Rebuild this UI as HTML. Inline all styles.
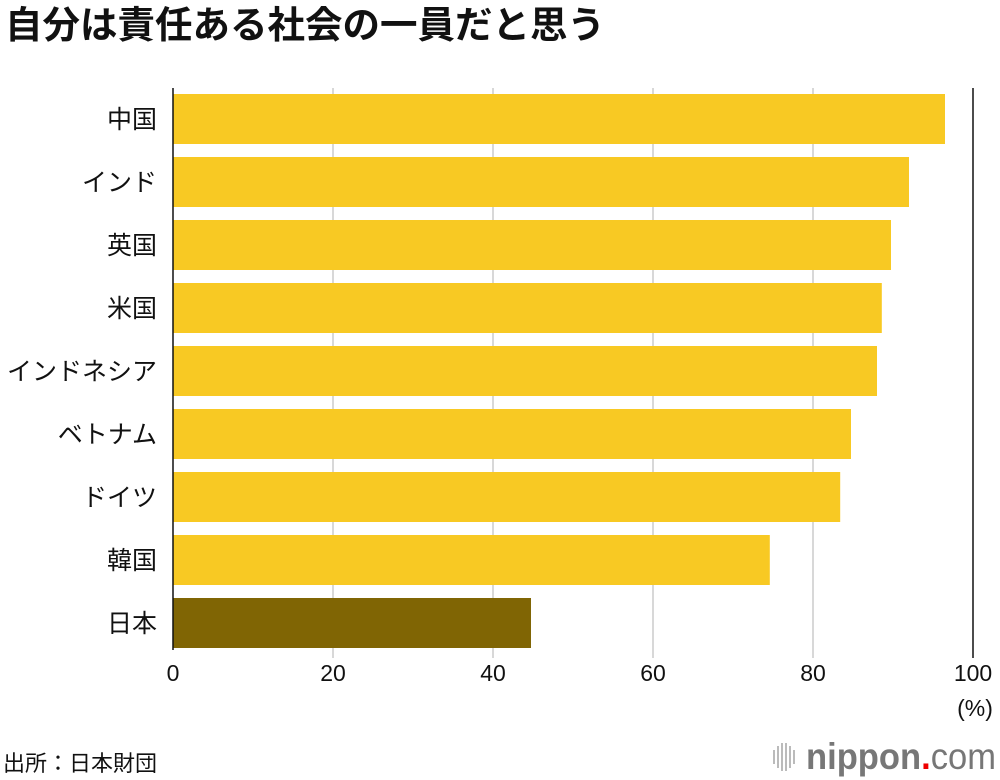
<!DOCTYPE html>
<html><head><meta charset="utf-8"><style>
body{margin:0;background:#fff;font-family:"Liberation Sans","Noto Sans CJK JP",sans-serif}
#wrap{position:relative;width:1000px;height:780px;overflow:hidden}
</style></head><body>
<div id="wrap">
<svg id="chart" width="1000" height="780" font-family="Liberation Sans, Noto Sans CJK JP, sans-serif">
<text x="5" y="38" font-size="37.5" font-weight="bold" fill="#111">自分は責任ある社会の一員だと思う</text>
<g id="grid"></g><g id="bars"></g><g id="labels"></g>
<text x="975" y="716" font-size="23" text-anchor="middle" fill="#111">(%)</text>
<text x="3" y="771" font-size="22" fill="#111">出所：日本財団</text>
<g>
<g fill="#bbb"><rect x="773" y="750" width="2" height="14"/><rect x="777" y="746" width="2" height="22"/><rect x="781" y="743" width="2" height="28"/><rect x="785" y="743" width="2" height="28"/><rect x="789" y="746" width="2" height="22"/><rect x="793" y="750" width="2" height="14"/></g>
<text x="806" y="769" font-size="37" fill="#777" font-weight="bold" textLength="190" lengthAdjust="spacingAndGlyphs">nippon<tspan fill="#e00">.</tspan><tspan font-weight="normal">com</tspan></text>
</g>
</svg>
</div>
<script>
const categories=["中国","インド","英国","米国","インドネシア","ベトナム","ドイツ","韓国","日本"];
const values=[96.5,92,89.75,88.6,88,84.75,83.4,74.6,44.75];
const ticks=[0,20,40,60,80,100];
const NS="http://www.w3.org/2000/svg";
const x0=173,x1=973,top0=94,step=63,bh=50;
const xs=v=>x0+(x1-x0)*v/100;
const ys=i=>top0+i*step;
function mk(t,a,p){const e=document.createElementNS(NS,t);for(const k in a)e.setAttribute(k,a[k]);p.appendChild(e);return e;}
const grid=document.getElementById('grid'),bars=document.getElementById('bars'),labels=document.getElementById('labels');
ticks.forEach(t=>{
 if(t>0){const l=mk('line',{x1:xs(t),x2:xs(t),y1:88,y2:658,stroke:t==100?'#111':'#ccc','stroke-width':1.5},grid);
 
 }
 const tx=mk('text',{x:xs(t),y:681,'font-size':23,'text-anchor':'middle',fill:'#111'},labels);
 tx.textContent=t;
 
 
});
categories.forEach((c,i)=>{
 const r=mk('rect',{x:x0,y:ys(i),width:xs(values[i])-x0,height:bh,fill:c=="日本"?'#806504':'#F8C923'},bars);
 
 
 const t=mk('text',{x:157,y:ys(i)+bh/2+9,'font-size':25,'text-anchor':'end',fill:'#111'},labels);
 t.textContent=c;
 
 
});
const ax=mk('line',{x1:x0,x2:x0,y1:88,y2:650,stroke:'#111','stroke-width':1.5},bars);


</script>
</body></html>
